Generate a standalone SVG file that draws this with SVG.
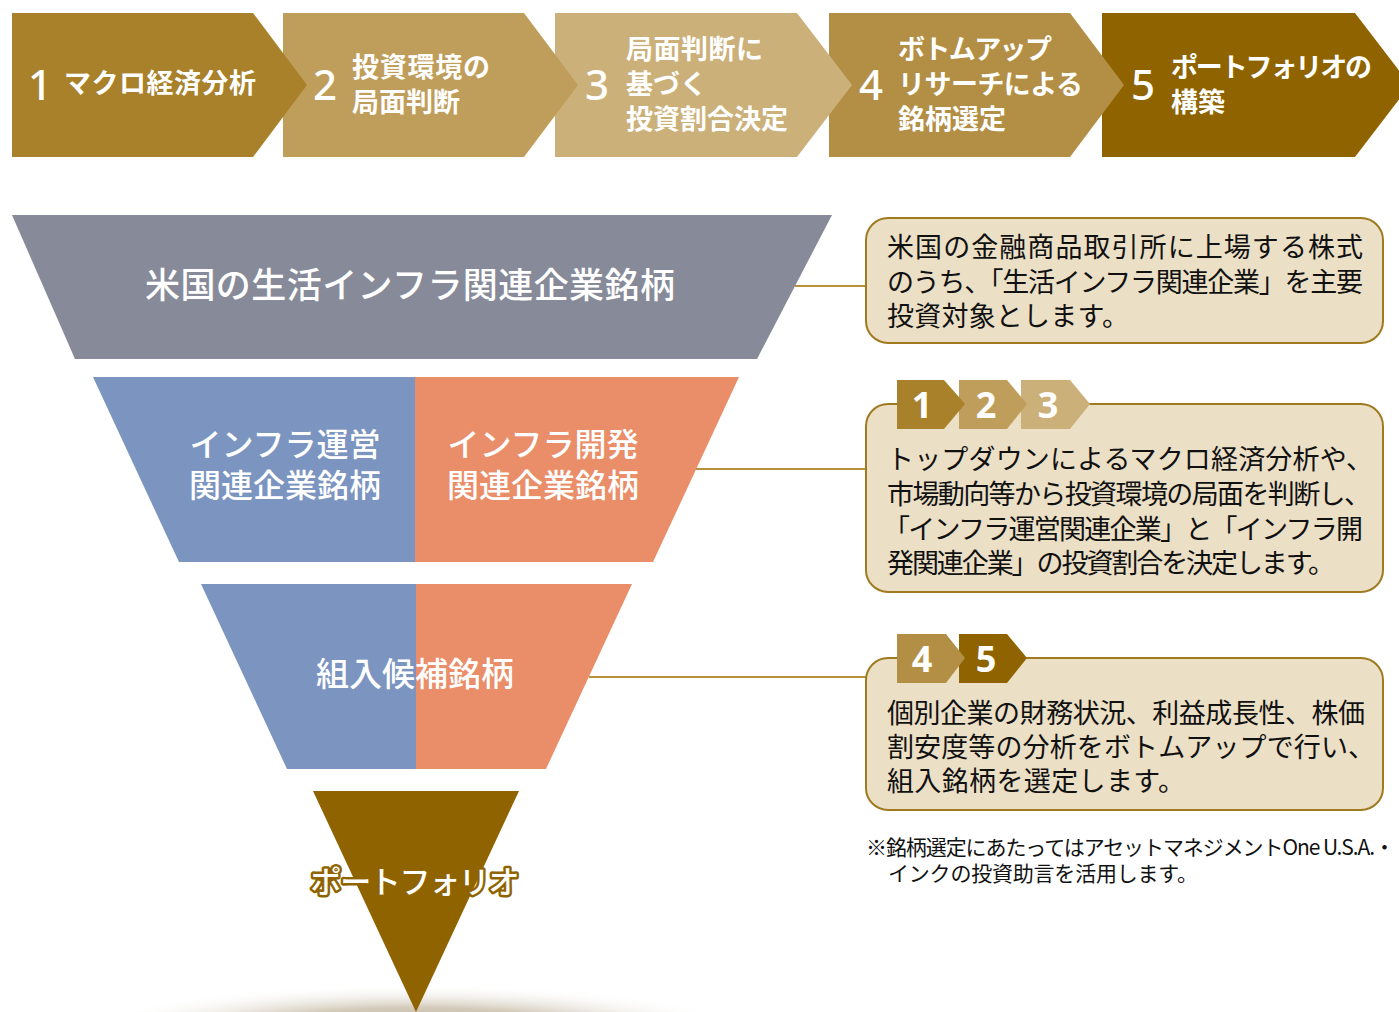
<svg xmlns="http://www.w3.org/2000/svg" width="1399" height="1012" viewBox="0 0 1399 1012">
<defs>
<style>
.chev{font-family:"Noto Sans CJK JP",sans-serif;font-weight:700;font-size:27px;fill:#fff}
.num{font-family:"Noto Sans","Noto Sans CJK JP",sans-serif;font-weight:500;font-size:42px;fill:#fff}
.snum{font-family:"Noto Sans","Noto Sans CJK JP",sans-serif;font-weight:700;font-size:36px;fill:#fff}
.fun{font-family:"Noto Sans CJK JP",sans-serif;font-weight:500;fill:#fff}
.box{fill:#EBDFC6;stroke:#A07A1F;stroke-width:2}
.btxt{font-family:"Noto Sans CJK JP",sans-serif;font-size:27px;fill:#111}
.note{font-family:"Noto Sans CJK JP",sans-serif;font-size:21px;fill:#111}
.conn{stroke:#B8923A;stroke-width:2;fill:none}
.c1{fill:#A8812A}.c2{fill:#BF9E5C}.c3{fill:#CBB07A}.c4{fill:#B38F45}.c5{fill:#8F6400}
</style>
<radialGradient id="shadow" cx="0.5" cy="0.5" r="0.5">
<stop offset="0" stop-color="#A89A80" stop-opacity="1"/>
<stop offset="0.55" stop-color="#C9BEAA" stop-opacity="0.8"/>
<stop offset="1" stop-color="#FFFFFF" stop-opacity="0"/>
</radialGradient>
</defs>
<rect width="1399" height="1012" fill="#FFFFFF"/>

<!-- top process chevrons (drawn right to left so each point overlays the next) -->
<g id="step5">
<polygon class="c5" points="1102,13 1355,13 1410,85 1355,157 1102,157"/>
<text class="num" x="1131" y="100">5</text>
<text class="chev" x="1171" y="77" textLength="201" lengthAdjust="spacing">ポートフォリオの</text>
<text class="chev" x="1171" y="112">構築</text>
</g>
<g id="step4">
<polygon class="c4" points="829,13 1070,13 1124,85 1070,157 829,157"/>
<text class="num" x="859" y="100">4</text>
<text class="chev" x="898" y="59" textLength="154" lengthAdjust="spacing">ボトムアップ</text>
<text class="chev" x="898" y="94" textLength="185" lengthAdjust="spacing">リサーチによる</text>
<text class="chev" x="898" y="129">銘柄選定</text>
</g>
<g id="step3">
<polygon class="c3" points="555,13 797,13 852,85 797,157 555,157"/>
<text class="num" x="585" y="100">3</text>
<text class="chev" x="626" y="59" textLength="137" lengthAdjust="spacing">局面判断に</text>
<text class="chev" x="626" y="94">基づく</text>
<text class="chev" x="626" y="129">投資割合決定</text>
</g>
<g id="step2">
<polygon class="c2" points="283,13 524,13 578,85 524,157 283,157"/>
<text class="num" x="313" y="100">2</text>
<text class="chev" x="352" y="77" textLength="138" lengthAdjust="spacing">投資環境の</text>
<text class="chev" x="352" y="112">局面判断</text>
</g>
<g id="step1">
<polygon class="c1" points="12,13 253,13 307,85 253,157 12,157"/>
<text class="num" x="28" y="100">1</text>
<text class="chev" x="64" y="93" textLength="192" lengthAdjust="spacing">マクロ経済分析</text>
</g>

<!-- connectors -->
<g id="connectors">
<line class="conn" x1="795" y1="286" x2="866" y2="286"/>
<line class="conn" x1="696" y1="469" x2="866" y2="469"/>
<line class="conn" x1="589" y1="677" x2="866" y2="677"/>
</g>

<!-- funnel -->
<g id="funnel-universe">
<polygon fill="#878B99" points="12,215 832,215 757,359 75,359"/>
<text class="fun" x="410" y="298" font-size="35" text-anchor="middle" textLength="530" lengthAdjust="spacing">米国の生活インフラ関連企業銘柄</text>
</g>
<g id="funnel-sectors">
<polygon fill="#7B94C0" points="93,377 415,377 415,562 179,562"/>
<polygon fill="#EA8D69" points="415,377 739,377 653,562 415,562"/>
<text class="fun" x="285" y="456" font-size="32" text-anchor="middle">インフラ運営</text>
<text class="fun" x="285" y="497" font-size="32" text-anchor="middle">関連企業銘柄</text>
<text class="fun" x="543" y="456" font-size="32" text-anchor="middle">インフラ開発</text>
<text class="fun" x="543" y="497" font-size="32" text-anchor="middle">関連企業銘柄</text>
</g>
<g id="funnel-candidates">
<polygon fill="#7B94C0" points="201,584 416,584 416,769 287,769"/>
<polygon fill="#EA8D69" points="416,584 632,584 546,769 416,769"/>
<text class="fun" x="415" y="686" font-size="33" text-anchor="middle">組入候補銘柄</text>
</g>
<g id="funnel-portfolio">
<ellipse cx="416" cy="1036" rx="340" ry="52" fill="url(#shadow)"/>
<polygon fill="#8F6400" points="313,791 519,791 416,1012"/>
<text class="fun" x="415" y="893" font-size="31" text-anchor="middle" font-weight="700" stroke="#8F6400" stroke-width="5" stroke-linejoin="round" paint-order="stroke" textLength="209" lengthAdjust="spacing">ポートフォリオ</text>
</g>

<!-- explanation boxes -->
<g id="box1">
<rect class="box" x="866" y="218" width="517" height="125" rx="22"/>
<text class="btxt" x="887" y="257" textLength="476" lengthAdjust="spacing">米国の金融商品取引所に上場する株式</text>
<text class="btxt" x="887" y="292" textLength="476" lengthAdjust="spacing">のうち、「生活インフラ関連企業」を主要</text>
<text class="btxt" x="887" y="326" textLength="242" lengthAdjust="spacing">投資対象とします。</text>
</g>
<g id="box2">
<rect class="box" x="866" y="404" width="517" height="188" rx="22"/>
<polygon class="c3" points="1021,380 1070,380 1090,404 1070,429 1021,429"/>
<polygon class="c2" points="959,380 1007,380 1027,404 1007,429 959,429"/>
<polygon class="c1" points="897,380 944,380 965,404 944,429 897,429"/>
<text class="snum" x="922" y="418" text-anchor="middle">1</text>
<text class="snum" x="986" y="418" text-anchor="middle">2</text>
<text class="snum" x="1048" y="418" text-anchor="middle">3</text>
<text class="btxt" x="887" y="469" textLength="486" lengthAdjust="spacing">トップダウンによるマクロ経済分析や、</text>
<text class="btxt" x="887" y="504" textLength="484" lengthAdjust="spacing">市場動向等から投資環境の局面を判断し、</text>
<text class="btxt" x="883" y="539" textLength="480" lengthAdjust="spacing">「インフラ運営関連企業」と「インフラ開</text>
<text class="btxt" x="887" y="573" textLength="448" lengthAdjust="spacing">発関連企業」の投資割合を決定します。</text>
</g>
<g id="box3">
<rect class="box" x="866" y="658" width="517" height="152" rx="22"/>
<polygon class="c5" points="959,634 1007,634 1027,658 1007,683 959,683"/>
<polygon class="c4" points="897,634 946,634 965,658 946,683 897,683"/>
<text class="snum" x="922" y="672" text-anchor="middle">4</text>
<text class="snum" x="986" y="672" text-anchor="middle">5</text>
<text class="btxt" x="887" y="723" textLength="478" lengthAdjust="spacing">個別企業の財務状況、利益成長性、株価</text>
<text class="btxt" x="887" y="757" textLength="488" lengthAdjust="spacing">割安度等の分析をボトムアップで行い、</text>
<text class="btxt" x="887" y="791" textLength="298" lengthAdjust="spacing">組入銘柄を選定します。</text>
</g>
<g id="footnote">
<text class="note" x="866" y="855" textLength="529" lengthAdjust="spacing">※銘柄選定にあたってはアセットマネジメントOne U.S.A.・</text>
<text class="note" x="888" y="881" textLength="310" lengthAdjust="spacing">インクの投資助言を活用します。</text>
</g>
</svg>
